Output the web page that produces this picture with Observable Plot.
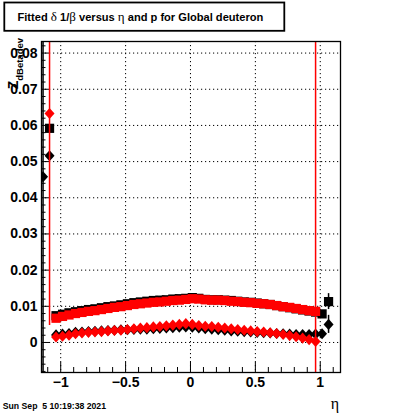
<!DOCTYPE html>
<html><head><meta charset="utf-8">
<script src="https://cdn.jsdelivr.net/npm/d3@7"></script>
<script src="https://cdn.jsdelivr.net/npm/@observablehq/plot@0.6"></script>
<style>
body{margin:0;background:#fff;}
#chart{width:400px;height:414px;}
</style>
</head><body><div id="chart"></div>
<script>
// eta bin positions
const eta = [-1.136,-1.086,-1.036,-0.986,-0.936,-0.886,-0.836,-0.786,-0.736,-0.686,-0.636,-0.586,-0.536,-0.486,-0.436,-0.386,-0.336,-0.286,-0.236,-0.186,-0.136,-0.086,-0.036,0.014,0.064,0.114,0.164,0.214,0.264,0.314,0.364,0.414,0.464,0.514,0.564,0.614,0.664,0.714,0.764,0.814,0.864,0.914,0.964,1.014,1.064];

// black squares (upper band)
const blackSquare = [null,0.0592,0.0074,0.0078,0.0082,0.0085,0.0088,0.0091,0.0093,0.0096,0.0099,0.0101,0.0104,0.0107,0.0110,0.0112,0.0114,0.0116,0.0117,0.0118,0.0120,0.0121,0.0122,0.0124,0.0122,0.0119,0.0118,0.0118,0.0117,0.0116,0.0114,0.0112,0.0111,0.0109,0.0107,0.0105,0.0102,0.0099,0.0096,0.0093,0.0090,0.0087,0.0084,0.0079,0.0113];
const blackSquareErr = [null,0.0005,0.0003,0.0003,0.0003,0.0003,0.0003,0.0003,0.0003,0.0003,0.0003,0.0003,0.0003,0.0003,0.0003,0.0003,0.0003,0.0003,0.0003,0.0003,0.0003,0.0003,0.0003,0.0003,0.0003,0.0003,0.0003,0.0003,0.0003,0.0003,0.0003,0.0003,0.0003,0.0003,0.0003,0.0003,0.0003,0.0003,0.0003,0.0003,0.0003,0.0003,0.0003,0.0004,0.0022];

// black diamonds (lower band)
const blackDiamond = [0.0458,0.0516,0.0021,0.0023,0.0025,0.0028,0.0029,0.0030,0.0031,0.0032,0.0033,0.0034,0.0035,0.0035,0.0036,0.0037,0.0037,0.0038,0.0039,0.0040,0.0041,0.0042,0.0043,0.0042,0.0040,0.0038,0.0037,0.0035,0.0034,0.0032,0.0031,0.0030,0.0029,0.0028,0.0027,0.0026,0.0025,0.0024,0.0023,0.0022,0.0022,0.0022,0.0023,0.0024,0.0050];
const blackDiamondErr = [0.0600,0.0005,0.0003,0.0003,0.0003,0.0003,0.0003,0.0003,0.0003,0.0003,0.0003,0.0003,0.0003,0.0003,0.0003,0.0003,0.0003,0.0003,0.0003,0.0003,0.0003,0.0003,0.0003,0.0003,0.0003,0.0003,0.0003,0.0003,0.0003,0.0003,0.0003,0.0003,0.0003,0.0003,0.0003,0.0003,0.0003,0.0003,0.0003,0.0003,0.0003,0.0003,0.0003,0.0004,0.0025];

// red squares (upper band)
const redSquare = [null,null,0.0067,0.0072,0.0076,0.0080,0.0083,0.0086,0.0088,0.0091,0.0094,0.0097,0.0099,0.0102,0.0105,0.0107,0.0109,0.0111,0.0112,0.0114,0.0116,0.0117,0.0119,0.0121,0.0120,0.0118,0.0117,0.0117,0.0116,0.0114,0.0113,0.0111,0.0110,0.0108,0.0107,0.0105,0.0102,0.0099,0.0097,0.0094,0.0091,0.0088,0.0086,null,null];
const redSquareErr = [null,null,0.0003,0.0003,0.0003,0.0003,0.0003,0.0003,0.0003,0.0003,0.0003,0.0003,0.0003,0.0003,0.0003,0.0003,0.0003,0.0003,0.0003,0.0003,0.0003,0.0003,0.0003,0.0003,0.0003,0.0003,0.0003,0.0003,0.0003,0.0003,0.0003,0.0003,0.0003,0.0003,0.0003,0.0003,0.0003,0.0003,0.0003,0.0003,0.0003,0.0003,0.0003,null,null];

// red diamonds (lower band)
const redDiamond = [null,0.0633,0.0015,0.0017,0.0020,0.0024,0.0026,0.0028,0.0029,0.0030,0.0032,0.0033,0.0034,0.0036,0.0038,0.0040,0.0041,0.0043,0.0044,0.0046,0.0048,0.0050,0.0052,0.0050,0.0047,0.0045,0.0044,0.0042,0.0040,0.0038,0.0036,0.0034,0.0032,0.0030,0.0029,0.0027,0.0025,0.0022,0.0019,0.0016,0.0012,0.0008,0.0003,null,null];
const redDiamondErr = [null,0.0586,0.0003,0.0003,0.0003,0.0003,0.0003,0.0003,0.0003,0.0003,0.0003,0.0003,0.0003,0.0003,0.0003,0.0003,0.0003,0.0003,0.0003,0.0003,0.0003,0.0003,0.0003,0.0003,0.0003,0.0003,0.0003,0.0003,0.0003,0.0003,0.0003,0.0003,0.0003,0.0003,0.0003,0.0003,0.0003,0.0003,0.0003,0.0003,0.0003,0.0003,0.0900,null,null];

// axes
const xDomain = [-1.148, 1.156];
const yDomain = [-0.0083, 0.0832];
const xMajor = [-1, -0.5, 0, 0.5, 1];
const xTickLabels = ["\u22121", "\u22120.5", "0", "0.5", "1"];
const xMinor = [-1.1,-0.9,-0.8,-0.7,-0.6,-0.4,-0.3,-0.2,-0.1,0.1,0.2,0.3,0.4,0.6,0.7,0.8,0.9,1.1];
const yMajor = [0, 0.01, 0.02, 0.03, 0.04, 0.05, 0.06, 0.07, 0.08];
const yTickLabels = ["0", "0.01", "0.02", "0.03", "0.04", "0.05", "0.06", "0.07", "0.08"];
const yMinor = [-0.008,-0.006,-0.004,-0.002,0.002,0.004,0.006,0.008,0.012,0.014,0.016,0.018,0.022,0.024,0.026,0.028,0.032,0.034,0.036,0.038,0.042,0.044,0.046,0.048,0.052,0.054,0.056,0.058,0.062,0.064,0.066,0.068,0.072,0.074,0.076,0.078,0.082];

const titleText = ["Fitted ", "\u03b4", " 1/", "\u03b2", " versus ", "\u03b7", " and p for Global deuteron"];
const dateText = "Sun Sep  5 10:19:38 2021";

function rows(vals, errs) {
  const out = [];
  vals.forEach((v, i) => { if (v != null) out.push({eta: eta[i], v, err: errs[i] || 0}); });
  return out;
}
const bSq = rows(blackSquare, blackSquareErr);
const bDi = rows(blackDiamond, blackDiamondErr);
const rSq = rows(redSquare, redSquareErr);
const rDi = rows(redDiamond, redDiamondErr);

const diamond = {
  draw(ctx, size) {
    const h = Math.sqrt(size / 1.8), w = 0.9 * h;
    ctx.moveTo(0, -h); ctx.lineTo(w, 0); ctx.lineTo(0, h); ctx.lineTo(-w, 0); ctx.closePath();
  }
};

const W = 400, H = 414, mL = 41, mR = 60, mT = 41, mB = 42;
const fw = W - mL - mR, fh = H - mT - mB;
const font = "'Liberation Sans', Arial, Helvetica, sans-serif";

const errMark = (data, color) => Plot.ruleX(data, {x: "eta", y1: d => d.v - d.err, y2: d => d.v + d.err, stroke: color, strokeWidth: 1.5, clip: true});
const dotMark = (data, color, sym, r) => Plot.dot(data, {x: "eta", y: "v", symbol: sym, r, fill: color, stroke: "none", clip: true});

const chart = Plot.plot({
  width: W, height: H,
  marginLeft: mL, marginRight: mR, marginTop: mT, marginBottom: mB,
  style: {fontFamily: font, background: "#fff", overflow: "visible"},
  x: {domain: xDomain},
  y: {domain: yDomain},
  marks: [
    Plot.ruleX(xMajor, {x: d => d, stroke: "#000", strokeWidth: 1, strokeDasharray: "1.2,2.8"}),
    Plot.ruleY(yMajor, {y: d => d, stroke: "#000", strokeWidth: 1, strokeDasharray: "1.2,2.8"}),
    Plot.tickY(yMajor, {y: d => d, insetRight: fw - 9, stroke: "#000", strokeWidth: 1}),
    Plot.tickY(yMinor, {y: d => d, insetRight: fw - 4.5, stroke: "#000", strokeWidth: 1}),
    Plot.tickX(xMajor, {x: d => d, insetTop: fh - 10, stroke: "#000", strokeWidth: 1}),
    Plot.tickX(xMinor, {x: d => d, insetTop: fh - 5, stroke: "#000", strokeWidth: 1}),
    errMark(bSq, "#000"), errMark(bDi, "#000"),
    dotMark(bSq, "#000", "square", 5.2),
    dotMark(bDi, "#000", diamond, 4.2),
    errMark(rSq, "#ff0000"), errMark(rDi, "#ff0000"),
    dotMark(rSq, "#ff0000", "square", 5.2),
    dotMark(rDi, "#ff0000", diamond, 4.2),
    Plot.frame({stroke: "#000", strokeWidth: 1.3}),
    Plot.axisX(xMajor, {tickSize: 0, tickPadding: 5, tickFormat: (d, i) => xTickLabels[i], fontSize: 14, fontWeight: "bold", fill: "#000", label: null}),
    Plot.axisY(yMajor, {tickSize: 0, tickPadding: 4, tickFormat: (d, i) => yTickLabels[i], fontSize: 14, fontWeight: "bold", fill: "#000", label: null})
  ]
});
document.getElementById("chart").appendChild(chart);

const svg = d3.select(chart);
// title box
svg.append("rect").attr("x", 4.3).attr("y", 2.5).attr("width", 280).attr("height", 28.3)
  .attr("fill", "#fff").attr("stroke", "#000").attr("stroke-width", 1.8);
const t = svg.append("text").attr("x", 17.5).attr("y", 20.8).attr("text-anchor", "start")
  .attr("font-family", font).attr("font-size", 11.1).attr("font-weight", "bold").attr("fill", "#000")
  .attr("xml:space", "preserve");
titleText.forEach((s, i) => {
  const greek = /[\u0370-\u03ff]/.test(s);
  t.append("tspan").text(s)
    .attr("font-family", greek ? "'Liberation Serif', 'DejaVu Serif', serif" : font)
    .attr("font-weight", greek ? "normal" : "bold")
    .attr("font-size", greek ? 13 : 11.1);
});
// y label Z_{dBetadev}
const yl = svg.append("text").attr("transform", "translate(17.5,38) rotate(-90)")
  .attr("text-anchor", "end").attr("font-family", font).attr("font-weight", "bold").attr("fill", "#000");
yl.append("tspan").text("Z").attr("font-size", 14);
yl.append("tspan").text("dBetadev").attr("font-size", 9.5).attr("dy", 5.5);
// x label
svg.append("text").attr("x", 339).attr("y", 409).attr("text-anchor", "end")
  .attr("font-family", "'Liberation Serif', 'DejaVu Serif', serif").attr("font-size", 16).attr("fill", "#000").text("\u03b7");
// date stamp
svg.append("text").attr("x", 2.7).attr("y", 409.3).attr("text-anchor", "start").attr("xml:space", "preserve")
  .attr("font-family", font).attr("font-size", 8.7).attr("font-weight", "bold").attr("fill", "#000").text(dateText);
</script>
</body></html>
